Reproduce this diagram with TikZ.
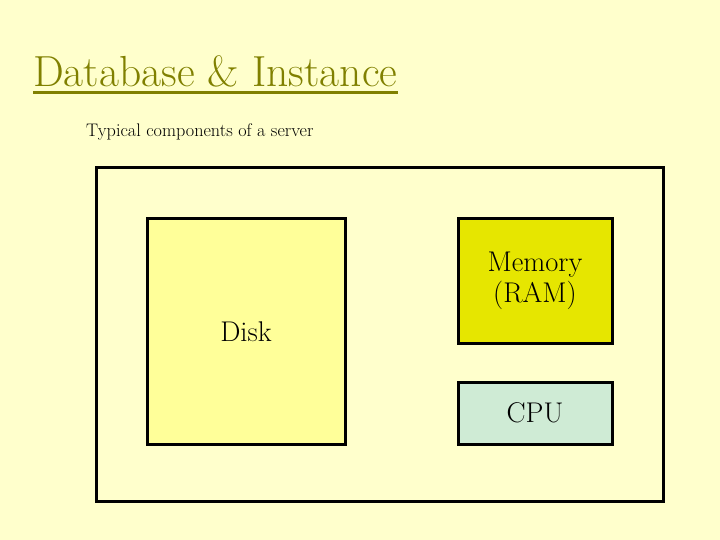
\documentclass[tikz,border=0pt]{standalone}
\usepackage{fontspec}
\definecolor{bgc}{HTML}{FFFFCC}
\definecolor{titlec}{HTML}{808000}
\definecolor{diskc}{HTML}{FFFF99}
\definecolor{memc}{HTML}{E6E600}
\definecolor{cpuc}{HTML}{CFEBD5}
\tikzset{
  box/.style={draw=black, line width=3pt, inner sep=0pt, align=center, font=\fontsize{28.5}{31}\selectfont},
}
\begin{document}
\begin{tikzpicture}[x=1pt,y=-1pt]
\fill[bgc] (0,0) rectangle (720,540);
\useasboundingbox (0,0) rectangle (720,540);
\node[inner sep=0pt, anchor=base west, text=titlec, font=\fontsize{43.5}{48}\selectfont] (title) at (33,87) {Database \& Instance};
\draw[titlec, line width=3pt] ([yshift=-6pt]title.base west) -- ([yshift=-6pt]title.base east);
\node[inner sep=0pt, anchor=base west, font=\fontsize{18.2}{20}\selectfont] (sub) at (86,137) {Typical components of a server};
\node[box, fill=bgc, minimum width=567pt, minimum height=333pt] (server) at (379.5,334.5) {};
\node[box, fill=diskc, minimum width=198pt, minimum height=225pt] (disk) at (246,331.5) {Disk};
\node[box, fill=memc, minimum width=154pt, minimum height=124pt] (mem) at (535,281) {Memory\\(RAM)};
\node[box, fill=cpuc, minimum width=154pt, minimum height=62pt] (cpu) at (535,413) {CPU};
\end{tikzpicture}
\end{document}
